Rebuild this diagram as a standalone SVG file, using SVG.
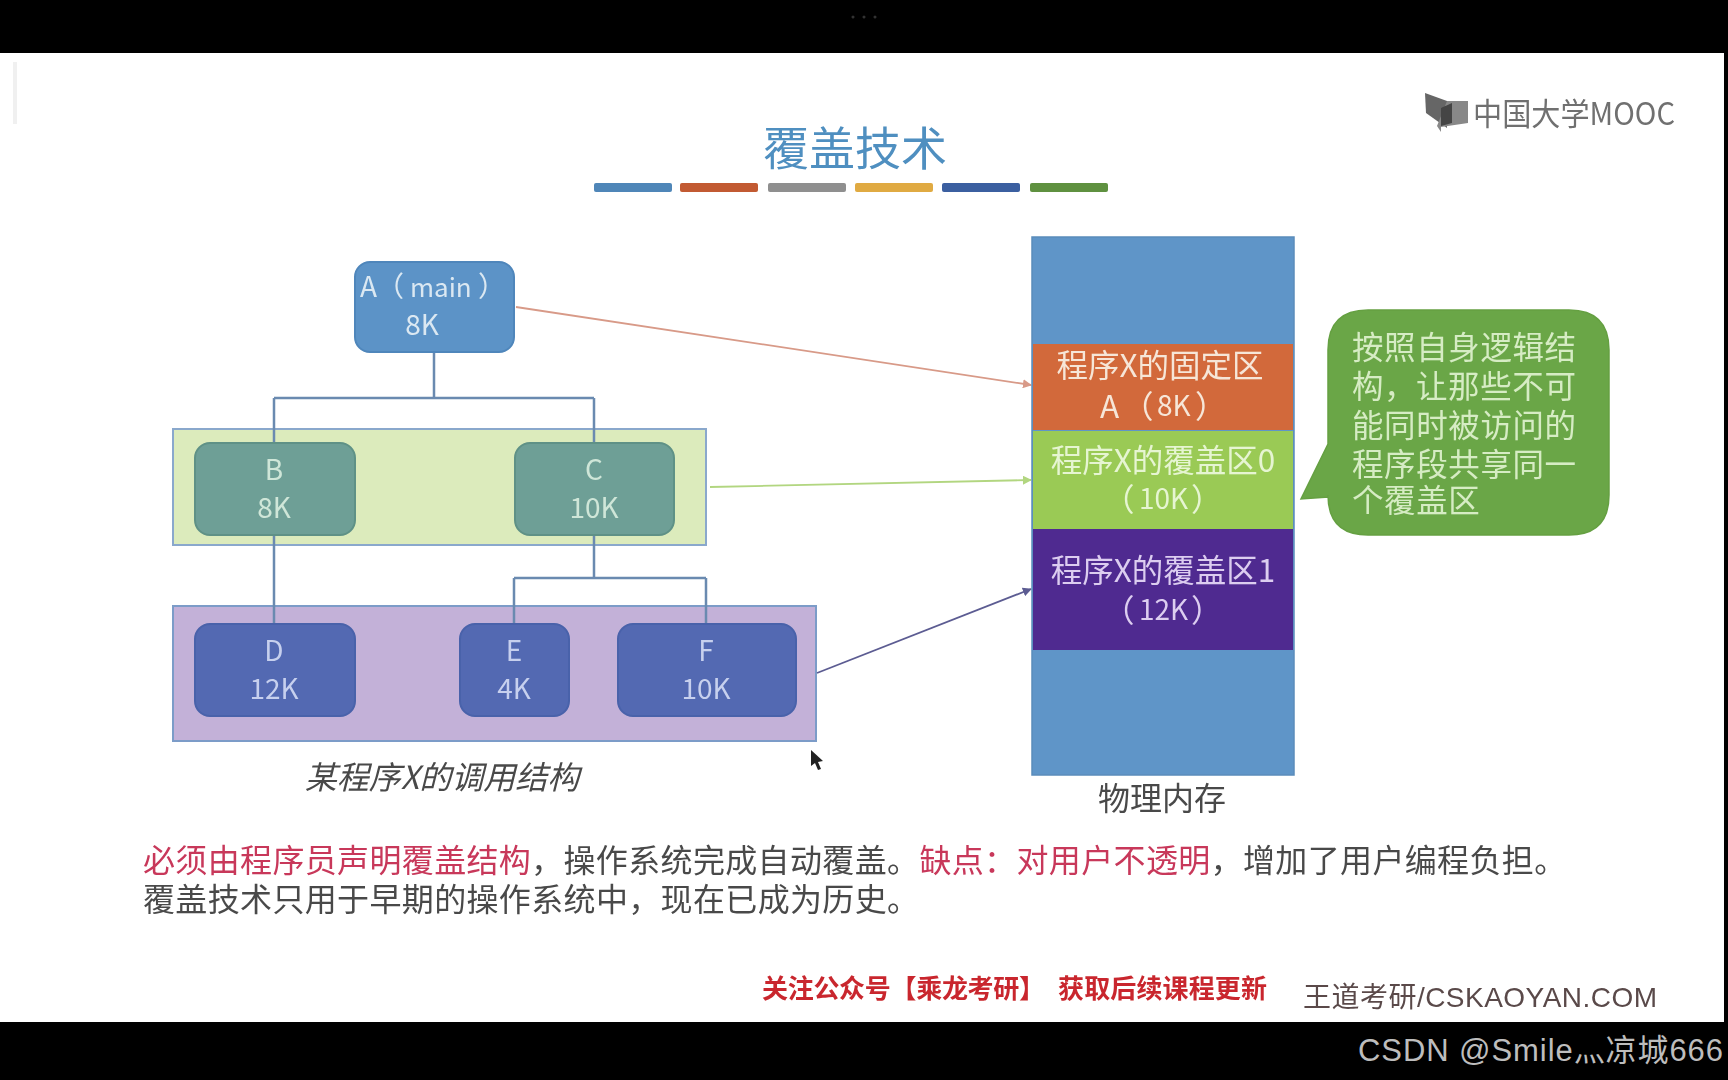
<svg xmlns="http://www.w3.org/2000/svg" width="1728" height="1080" viewBox="0 0 1728 1080">
<defs>
<marker id="ar" viewBox="0 0 10 10" refX="9" refY="5" markerWidth="9" markerHeight="9" markerUnits="userSpaceOnUse" orient="auto"><path d="M0 0L10 5L0 10z" fill="context-stroke"/></marker>
<filter id="soft" x="0" y="0" width="100%" height="100%"><feGaussianBlur stdDeviation="0.55"/></filter>
</defs>
<style>
text{font-family:"Noto Sans CJK SC","Noto Sans",sans-serif;dominant-baseline:central;text-anchor:middle}
.s{text-anchor:start}
.n{font-size:28px;fill:#dbe8f2}
.g{font-size:28px;fill:#cfe6d8}
.p{font-size:28px;fill:#c7d0ee}
.m{font-size:31.5px;fill:#f6e6d8}
.m0{font-size:31.5px;fill:#e6f5d2}
.m1{font-size:31.5px;fill:#dccdf0}
.k{font-size:28px}
.t{font-size:32px;letter-spacing:.35px;text-anchor:start;fill:#4a4a4a}
.r{fill:#c8375a}
.c{font-size:31.5px;letter-spacing:.6px;text-anchor:start;fill:#d6ecc4}
.l{fill:none;stroke:#6a8ab0;stroke-width:2.5}
.a{fill:none;stroke-width:1.8;marker-end:url(#ar)}
.b{height:9px;width:78px;rx:2px}
.red{font-size:26px;font-weight:700;text-anchor:start;fill:#c9282d}
</style>
<rect width="1728" height="1080" fill="#000"/>
<rect x="0" y="53" width="1724" height="969" fill="#fff"/>
<g filter="url(#soft)">
<rect x="13" y="62" width="4" height="62" fill="#f0f0f0"/>
<g fill="#333"><circle cx="853" cy="17" r="1.5"/><circle cx="864" cy="17" r="1.5"/><circle cx="875" cy="17" r="1.5"/></g>

<g id="title">
<text x="855" y="145" style="font-size:46px;fill:#4f8fc0">覆盖技术</text>
<rect class="b" x="594" y="183" fill="#4f86b8"/>
<rect class="b" x="680" y="183" fill="#c25a30"/>
<rect class="b" x="768" y="183" fill="#8f8f8f"/>
<rect class="b" x="855" y="183" fill="#e0aa42"/>
<rect class="b" x="942" y="183" fill="#3b5ea0"/>
<rect class="b" x="1030" y="183" fill="#5f9140"/>
</g>

<g id="logo">
<path d="M1425 93L1447 101L1447 128L1426 113z" fill="#666"/>
<path d="M1447 101L1468 101L1468 123L1441 127L1441 132L1437 126z" fill="#888"/>
<path d="M1441 108L1452 103L1452 123L1441 126z" fill="#444"/>
<text x="1473" y="111" textLength="202" lengthAdjust="spacingAndGlyphs" style="font-size:31px;text-anchor:start;fill:#6f6f6f">中国大学MOOC</text>
</g>

<g id="band-green"><rect x="173" y="429" width="533" height="116" fill="#dcebbc" stroke="#8aa8cc" stroke-width="2"/></g>
<g id="band-purple"><rect x="173" y="606" width="643" height="135" fill="#c3b1d8" stroke="#7b9cc8" stroke-width="2"/></g>

<g id="connectors">
<path class="l" d="M434 352V398M274 398H594M274 398V443M594 398V443M274 535V624M594 535V578M514 578H706M514 578V624M706 578V624"/>
<path class="a" stroke="#d89a88" d="M516 307L1031 385"/>
<path class="a" stroke="#b2d680" d="M710 487L1031 480"/>
<path class="a" stroke="#5c5c92" d="M817 673L1031 589"/>
</g>

<g id="node-a"><rect x="355" y="262" width="159" height="90" rx="15" fill="#5b93c7" stroke="#4f86bb" stroke-width="2"/>
<text class="n s" y="285"><tspan x="360">A</tspan><tspan x="376">（</tspan><tspan x="410" style="font-size:26px">main</tspan><tspan x="478">）</tspan></text><text class="n" x="422" y="323">8K</text></g>
<g id="node-b"><rect x="195" y="443" width="160" height="92" rx="15" fill="#6e9f96" stroke="#5f9186" stroke-width="2"/>
<text class="g" x="274" y="468">B</text><text class="g" x="274" y="506">8K</text></g>
<g id="node-c"><rect x="515" y="443" width="159" height="92" rx="15" fill="#6e9f96" stroke="#5f9186" stroke-width="2"/>
<text class="g" x="594" y="468">C</text><text class="g" x="594" y="506">10K</text></g>
<g id="node-d"><rect x="195" y="624" width="160" height="92" rx="15" fill="#5269b2" stroke="#4a62aa" stroke-width="2"/>
<text class="p" x="274" y="649">D</text><text class="p" x="274" y="687">12K</text></g>
<g id="node-e"><rect x="460" y="624" width="109" height="92" rx="15" fill="#5269b2" stroke="#4a62aa" stroke-width="2"/>
<text class="p" x="514" y="649">E</text><text class="p" x="514" y="687">4K</text></g>
<g id="node-f"><rect x="618" y="624" width="178" height="92" rx="15" fill="#5269b2" stroke="#4a62aa" stroke-width="2"/>
<text class="p" x="706" y="649">F</text><text class="p" x="706" y="687">10K</text></g>
<text x="442" y="775" style="font-size:32px;font-style:italic;fill:#4a4a4a">某程序X的调用结构</text>

<g id="memory">
<rect x="1032" y="237" width="262" height="538" fill="#5f95c8" stroke="#5a8cbb" stroke-width="1.5"/>
<rect x="1033" y="344" width="260" height="86" fill="#d2693a"/>
<rect x="1033" y="431" width="260" height="98" fill="#9aca55"/>
<rect x="1033" y="529" width="260" height="121" fill="#4f2a90"/>
<text class="m" x="1160" y="363">程序X的固定区</text>
<text class="m s" y="404"><tspan x="1100">A</tspan><tspan x="1122">（</tspan><tspan class="k" x="1157">8K</tspan><tspan x="1195">）</tspan></text>
<text class="m0" x="1163" y="458">程序X的覆盖区0</text>
<text class="m0 s" y="497"><tspan x="1103">（</tspan><tspan class="k" x="1139">10K</tspan><tspan x="1191">）</tspan></text>
<text class="m1" x="1163" y="568">程序X的覆盖区1</text>
<text class="m1 s" y="608"><tspan x="1103">（</tspan><tspan class="k" x="1139">12K</tspan><tspan x="1191">）</tspan></text>
<text x="1162" y="796" style="font-size:32px;fill:#4a4a4a">物理内存</text>
</g>

<g id="callout">
<path d="M1368 310H1569Q1609 310 1609 350V495Q1609 535 1569 535H1368Q1328 535 1328 495V497L1301 499L1328 444V350Q1328 310 1368 310z" fill="#6aa646" stroke="#65a042" stroke-width="1.5"/>
<text class="c" x="1352" y="345">按照自身逻辑结</text>
<text class="c" y="384"><tspan x="1352">构，</tspan><tspan x="1416">让那些不可</tspan></text>
<text class="c" x="1352" y="423">能同时被访问的</text>
<text class="c" x="1352" y="462">程序段共享同一</text>
<text class="c" x="1352" y="498">个覆盖区</text>
</g>

<path d="M811 750L811 766L815 763L818 770L821 769L818 762L823 761z" fill="#222"/>

<g id="notes">
<text class="t" y="858"><tspan class="r" x="143">必须由程序员声明覆盖结构</tspan><tspan x="531">，</tspan><tspan x="563.5">操作系统完成自动覆盖。</tspan><tspan class="r" x="919.4">缺点：</tspan><tspan class="r" x="1016.5">对用户不透明</tspan><tspan x="1210.6">，</tspan><tspan x="1243">增加了用户编程负担。</tspan></text>
<text class="t" y="897"><tspan x="143">覆盖技术只用于早期的操作系统中，</tspan><tspan x="660.6">现在已成为历史。</tspan></text>
</g>

<g id="footer">
<text class="red" y="986"><tspan x="762" textLength="283">关注公众号【乘龙考研】</tspan></text>
<text class="red" x="1058" y="986" textLength="209">获取后续课程更新</text>
<text x="1303" y="997" textLength="354" style="font-family:'Liberation Sans','Noto Sans CJK SC',sans-serif;font-size:28px;text-anchor:start;fill:#5a4a4a">王道考研/CSKAOYAN.COM</text>
</g>
</g>
<text x="1358" y="1050" textLength="365" style="font-family:'Liberation Sans','Noto Sans CJK SC',sans-serif;font-size:31px;text-anchor:start;fill:#bdbdbd">CSDN @Smile灬凉城666</text>
</svg>
